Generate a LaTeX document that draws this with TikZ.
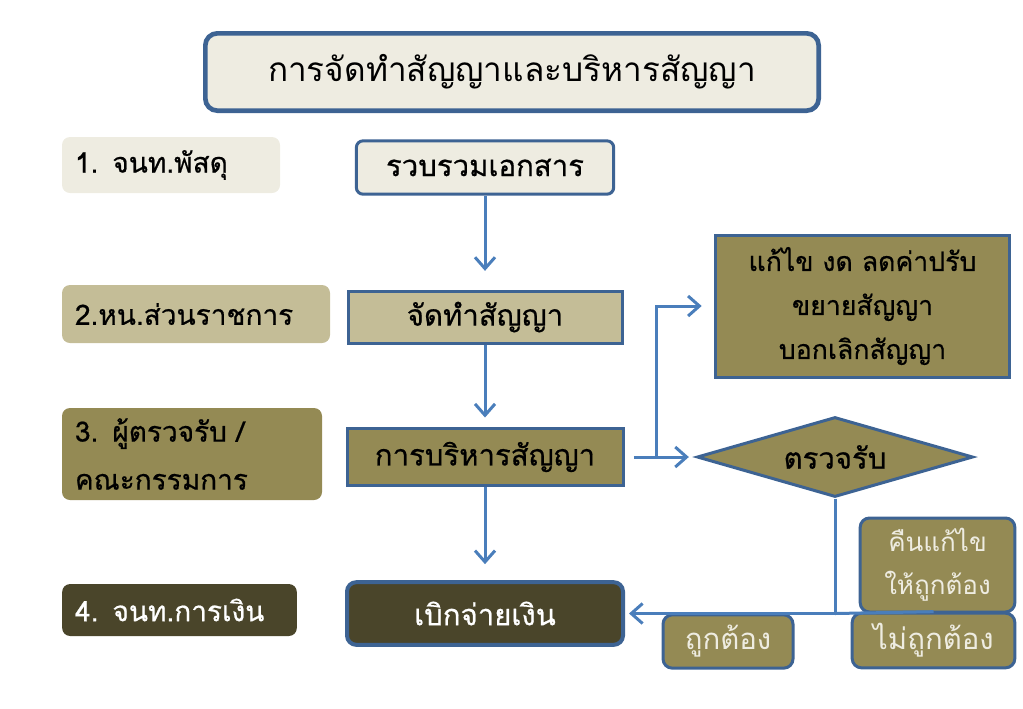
\documentclass[tikz,border=0pt]{standalone}
\usepackage{fontspec}
\newfontfamily\thaifont[Script=Thai]{Loma}
\newfontfamily\thaiheavy[Script=Thai,FakeBold=0.6]{Loma}
\usetikzlibrary{arrows.meta,positioning,calc,shapes.geometric}
\definecolor{paper}{HTML}{EEECE1}
\definecolor{tan}{HTML}{C4BD97}
\definecolor{olive}{HTML}{948A54}
\definecolor{darkolive}{HTML}{4A452A}
\definecolor{edge}{HTML}{3D6393}
\definecolor{flow}{HTML}{4A7EBB}

\begin{document}
\begin{tikzpicture}[
    x=0.75pt, y=-0.75pt,
    font=\thaiheavy\fontsize{22}{26}\selectfont,
    lane/.style={rectangle, rounded corners=6pt, inner xsep=9.75pt, inner ysep=0pt, align=left,
                 font=\thaiheavy\fontsize{21}{26}\selectfont},
    stepbox/.style={rectangle, draw=edge, line width=2.25pt, inner sep=0pt, align=center},
    link/.style={draw=flow, line width=2.25pt},
    arr/.style={link, -{Straight Barb[length=8.5pt,width=15pt]}}
  ]
    \useasboundingbox (0,0) rectangle (1023,708);
    % heading
    \node[stepbox, rounded corners=9pt, line width=3.5pt, fill=paper,
          minimum width=460pt, minimum height=58pt,
          font=\thaifont\fontsize{25}{30}\selectfont] (title) at (512,72) {การจัดทำสัญญาและบริหารสัญญา};
    % responsible units (left column)
    \node[lane, fill=paper, text width=144pt, minimum height=42pt] (unit1) at (171,165) {1. จนท.พัสดุ};
    \node[lane, fill=tan, text width=181.5pt, minimum height=43.5pt] (unit2) at (196,314) {2.หน.ส่วนราชการ};
    \node[lane, fill=olive, text width=175.5pt, minimum height=69pt,
          font=\thaiheavy\fontsize{21}{36}\selectfont] (unit3) at (192,454) {3. ผู้ตรวจรับ /\\คณะกรรมการ};
    \node[lane, fill=darkolive, text=white, text width=156.5pt, minimum height=39pt] (unit4) at (179.5,610) {4. จนท.การเงิน};
    % main steps
    \node[stepbox, rounded corners=5pt, fill=paper, minimum width=193pt, minimum height=40pt] (collect) at (485,167.5) {รวบรวมเอกสาร};
    \node[stepbox, fill=tan, minimum width=205.5pt, minimum height=39pt] (draft) at (485,317) {จัดทำสัญญา};
    \node[stepbox, fill=olive, minimum width=207pt, minimum height=43pt] (manage) at (485,457) {การบริหารสัญญา};
    \node[stepbox, rounded corners=7pt, line width=3pt, fill=darkolive, text=white,
          minimum width=207pt, minimum height=47pt] (pay) at (485,613.5) {เบิกจ่ายเงิน};
    % side branch
    \node[stepbox, fill=olive, minimum width=221pt, minimum height=106.5pt,
          font=\thaiheavy\fontsize{20}{33}\selectfont] (edit) at (862.5,306) {แก้ไข งด ลดค่าปรับ\\ขยายสัญญา\\บอกเลิกสัญญา};
    \node[diamond, draw=edge, line width=2.25pt, fill=olive, inner sep=0pt, shape aspect=3.4,
          minimum width=207pt, minimum height=60pt] (check) at (835,457) {ตรวจรับ};
    \node[stepbox, rounded corners=7pt, fill=olive, text=paper, minimum width=116pt, minimum height=70.5pt,
          font=\thaifont\fontsize{19.5}{32}\selectfont] (redo) at (937.5,565) {คืนแก้ไข\\ให้ถูกต้อง};
    \node[stepbox, rounded corners=7pt, fill=olive, text=paper, minimum width=97.5pt, minimum height=40pt,
          font=\thaifont\fontsize{22}{26}\selectfont] (ok) at (728,641.5) {ถูกต้อง};
    \node[stepbox, rounded corners=7pt, fill=olive, text=paper, minimum width=122pt, minimum height=41pt,
          font=\thaifont\fontsize{22}{26}\selectfont] (notok) at (933.5,640.5) {ไม่ถูกต้อง};
    % connectors
    \coordinate (fork) at ($(manage.east)!0.45!(check.west)$);
    \draw[arr, shorten >=14pt] (collect) -- (draft);
    \draw[arr, shorten >=7pt] (draft) -- (manage);
    \draw[arr, shorten >=12pt] (manage) -- (pay);
    \draw[arr, shorten <=7pt, shorten >=5pt] (manage.east) -- (check.west);
    \draw[arr, shorten >=9pt] (fork) |- (edit.west);
    \draw[arr, shorten >=3pt] (check.south) |- (pay.east);
    \draw[link] (check.south |- pay.east) -- (notok.north);
\end{tikzpicture}
\end{document}
